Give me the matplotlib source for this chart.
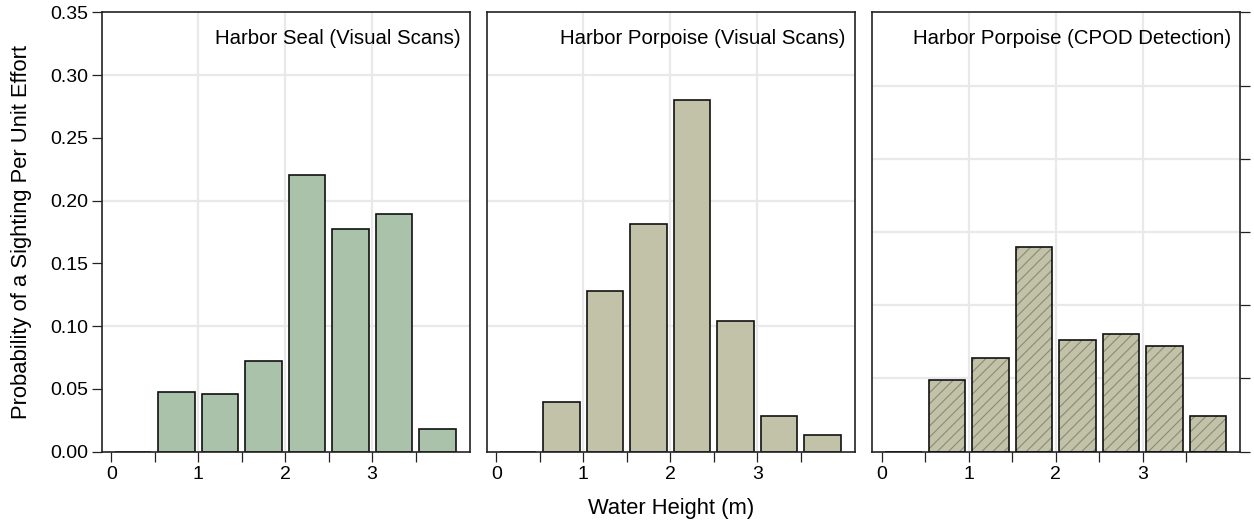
import numpy as np
import matplotlib.pyplot as plt

# water height bins (bar centres) and per-panel values
heights = [0.25, 0.75, 1.25, 1.75, 2.25, 2.75, 3.25, 3.75]
seal_visual = [0.0, 0.0477, 0.0456, 0.0724, 0.2203, 0.1777, 0.1890, 0.0177]
porpoise_visual = [0.0, 0.0398, 0.1280, 0.1816, 0.2804, 0.1044, 0.0284, 0.0133]
porpoise_cpod = [0.0, 0.0974, 0.1286, 0.2798, 0.1530, 0.1608, 0.1438, 0.0482]

titles = ["Harbor Seal (Visual Scans)", "Harbor Porpoise (Visual Scans)",
          "Harbor Porpoise (CPOD Detection)"]
major_x = [0, 1, 2, 3]
minor_x = [0.5, 1.5, 2.5, 3.5]

plt.rcParams["font.family"] = ["Liberation Sans", "DejaVu Sans"]
plt.rcParams["hatch.linewidth"] = 0.8

fig, axes = plt.subplots(1, 3, figsize=(12.54, 5.27), dpi=100)
fig.subplots_adjust(left=0.0811, right=0.9888, bottom=0.1429, top=0.9767, wspace=0.0473)

spine_col = "#222222"
grid_col = "#e9e9e9"
width = 0.42

for i, (ax, vals, title) in enumerate(zip(axes, [seal_visual, porpoise_visual, porpoise_cpod], titles)):
    ax.set_axisbelow(True)
    if i == 0:
        ax.bar(heights, vals, width=width, color="#a9c2a9", edgecolor="#111111", linewidth=1.2, zorder=2)
    elif i == 1:
        ax.bar(heights, vals, width=width, color="#c2c2a9", edgecolor="#111111", linewidth=1.2, zorder=2)
    else:
        ax.bar(heights, vals, width=width, color="#c2c2a9", edgecolor="#8a8a76", hatch="///",
               linewidth=0, zorder=2)
        ax.bar(heights, vals, width=width, fill=False, edgecolor="#111111", linewidth=1.2, zorder=3)

    ax.set_xlim(-0.11, 4.12)
    ax.set_xticks(major_x)
    ax.set_xticks(minor_x, minor=True)
    ax.tick_params(axis="x", which="both", direction="out", length=7, width=0.9,
                   color=spine_col, labelsize=14, pad=3)
    for x in [1, 2, 3]:
        ax.axvline(x, color=grid_col, lw=1.6, zorder=0)

    if i < 2:
        ax.set_ylim(0, 0.35)
        ax.set_yticks(np.arange(0, 0.351, 0.05))
        for y in [0.1, 0.2, 0.3]:
            ax.axhline(y, color=grid_col, lw=1.6, zorder=0)
    else:
        ax.set_ylim(0, 0.6)
        ax.set_yticks(np.arange(0, 0.61, 0.1))
        for y in [0.1, 0.2, 0.3, 0.4, 0.5]:
            ax.axhline(y, color=grid_col, lw=1.6, zorder=0)

    if i == 0:
        ax.tick_params(axis="y", direction="out", length=7, width=0.9, color=spine_col,
                       labelsize=14, pad=3)
        ax.set_yticklabels([f"{v:.2f}" for v in np.arange(0, 0.351, 0.05)])
    elif i == 1:
        ax.tick_params(axis="y", left=False, labelleft=False)
    else:
        ax.tick_params(axis="y", left=False, labelleft=False, right=True, labelright=False,
                       direction="out", length=7, width=0.9, color=spine_col)

    for s in ax.spines.values():
        s.set_color(spine_col)
        s.set_linewidth(1.2)

    ax.text(0.975, 0.962, title, transform=ax.transAxes, ha="right", va="top", fontsize=14.7)

axes[0].set_ylabel("Probability of a Sighting Per Unit Effort", fontsize=15.8)
axes[0].yaxis.set_label_coords(-0.19, 0.5)
fig.text(0.535, 0.036, "Water Height (m)", ha="center", va="center", fontsize=15.8)

fig.savefig("out.png", dpi=100)
